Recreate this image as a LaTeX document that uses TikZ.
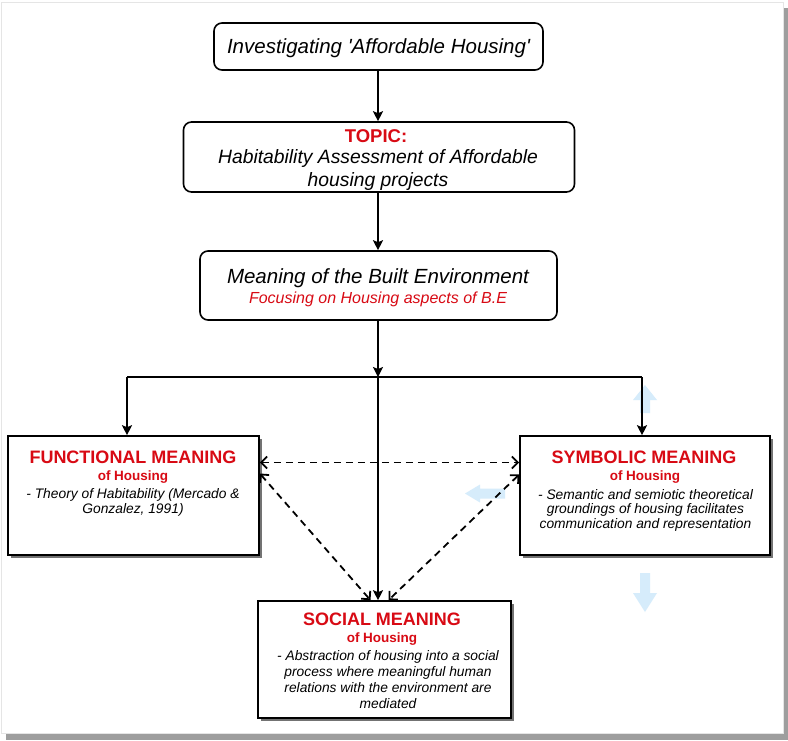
\documentclass[tikz,border=0pt]{standalone}
\usepackage{fontspec}
\setmainfont{Liberation Sans}[Ligatures=TeXOff]
\usetikzlibrary{arrows.meta,shadows}
\definecolor{hred}{HTML}{D80A14}
\definecolor{hblue}{HTML}{D6ECFB}
\begin{document}
\begin{tikzpicture}[x=1pt,y=-1pt,
  rbox/.style={draw, line width=1.6pt, rounded corners=8pt, fill=white, inner sep=0pt},
  sbox/.style={draw, line width=1.6pt, fill=white, inner sep=0pt,
     drop shadow={shadow xshift=3pt,shadow yshift=-3pt,fill=black,opacity=0.55}},
  txt/.style={inner sep=0pt, anchor=base, align=center},
  sar/.style={line width=1.6pt, -{Stealth[length=10pt,width=10pt,inset=2pt]}},
  dar/.style={line width=1.8pt, dash pattern=on 7pt off 5pt,
     {Straight Barb[length=6pt,width=12pt,line width=1.8pt]}-{Straight Barb[length=6pt,width=12pt,line width=1.8pt]}},
  ttl/.style={txt, font=\fontsize{18}{20}\selectfont\bfseries, text=hred},
  sub/.style={txt, font=\fontsize{13.5}{15}\selectfont\bfseries, text=hred},
  dsc/.style={txt, font=\fontsize{13.8}{14.5}\selectfont\itshape},
  hand/.style={fill=hblue, draw=none}
]
% page frame
\useasboundingbox (0,0) rectangle (788,740);
\fill[white] (0,0) rectangle (788,740);
\fill[black!38] (6,8) rectangle (788,740);
\fill[white, draw=black!10, line width=0.6pt] (1.5,2.5) rectangle (783,733);

% faint handle arrows
\fill[hand] (645,385) -- (657,400) -- (650,400) -- (650,413) -- (640,413) -- (640,400) -- (633,400) -- cycle;
\fill[hand] (465,493.5) -- (480,484.5) -- (480,488.5) -- (505,488.5) -- (505,498.5) -- (480,498.5) -- (480,502.5) -- cycle;
\fill[hand] (645,612) -- (657,593) -- (650,593) -- (650,573) -- (640,573) -- (640,593) -- (633,593) -- cycle;

% boxes
\node[rbox, minimum width=329pt, minimum height=47pt] (b1) at (378.5,46.5) {};
\node[rbox, minimum width=391pt, minimum height=70pt] (b2) at (379,157) {};
\node[rbox, minimum width=357pt, minimum height=69pt] (b3) at (378.5,285.5) {};
\node[sbox, minimum width=251pt, minimum height=119pt] (fun) at (133.5,495.5) {};
\node[sbox, minimum width=250pt, minimum height=119pt] (sym) at (645,495.5) {};
\node[sbox, minimum width=253pt, minimum height=117pt] (soc) at (384.5,659.5) {};

% texts (multi-line nodes: base = last line)
\node[txt, font=\fontsize{20.5}{23}\selectfont\itshape] (t1) at (378.5,53) {Investigating 'Affordable Housing'};
\node[txt, font=\fontsize{18.5}{23}\selectfont\bfseries, text=hred] (t2a) at (376,142) {TOPIC:};
\node[txt, font=\fontsize{19.3}{23}\selectfont\itshape] (t2b) at (378,186) {Habitability Assessment of Affordable\\housing projects};
\node[txt, font=\fontsize{20.5}{23}\selectfont\itshape] (t3a) at (378,283) {Meaning of the Built Environment};
\node[txt, font=\fontsize{16}{18}\selectfont\itshape, text=hred] (t3b) at (378,303) {Focusing on Housing aspects of B.E};

\node[ttl] (fa) at (133,463) {FUNCTIONAL MEANING};
\node[sub] (fb) at (133,480) {of Housing};
\node[dsc] (fc) at (133,513) {- Theory of Habitability (Mercado \&\\Gonzalez, 1991)};

\node[ttl] (sa) at (644,463) {SYMBOLIC MEANING};
\node[sub] (sb) at (645,480) {of Housing};
\node[dsc] (sc) at (645.5,528) {- Semantic and semiotic theoretical\\groundings of housing facilitates\\communication and representation};

\node[ttl] (ca) at (382,625) {SOCIAL MEANING};
\node[sub] (cb) at (382,642) {of Housing};
\node[dsc, font=\fontsize{13.8}{15.8}\selectfont\itshape] (cc) at (388,708) {- Abstraction of housing into a social\\process where meaningful human\\relations with the environment are\\mediated};

% connectors
\coordinate (J) at (378,377);
\coordinate (L) at (127,377);
\coordinate (R) at (642,377);
\draw[sar] (b1.south -| J) -- (b2.north -| J);
\draw[sar] (b2.south -| J) -- (b3.north -| J);
\draw[sar] (b3.south -| J) -- (J);
\draw[line width=1.6pt] (L) -- (R);
\draw[sar] (L) -- (fun.north -| L);
\draw[sar] (R) -- (sym.north -| R);
\draw[sar] (J) -- (soc.north -| J);
\draw[dar] ([yshift=33pt]fun.east) -- ([yshift=33pt]sym.west);
\draw[dar] ([yshift=22pt]fun.east) -- ([xshift=-14pt]soc.north);
\draw[dar] ([yshift=21pt]sym.west) -- ([xshift=4pt]soc.north);
\end{tikzpicture}
\end{document}
